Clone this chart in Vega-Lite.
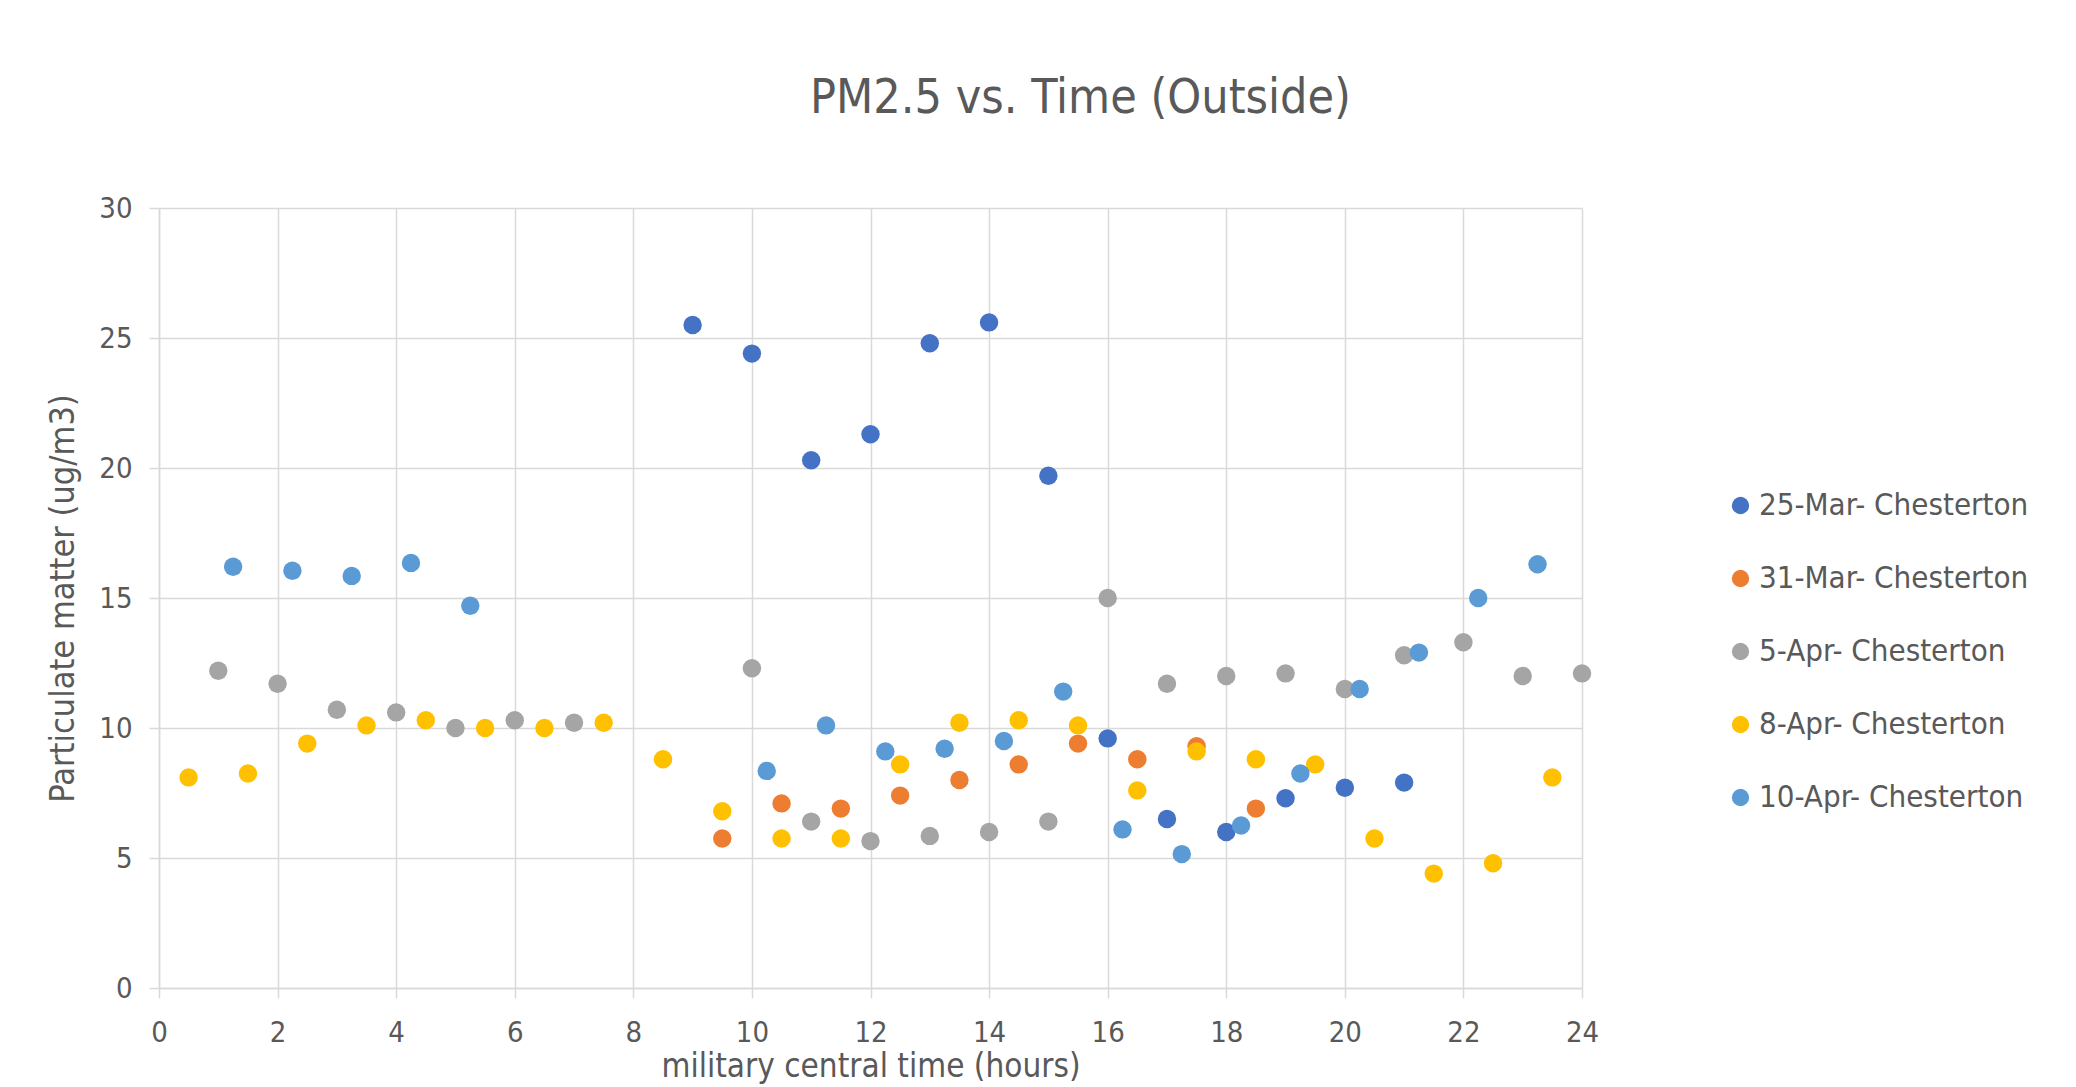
{
  "$schema": "https://vega.github.io/schema/vega-lite/v6.json",
  "width": 1423,
  "height": 780,
  "autosize": {"type": "none"},
  "padding": {"left": 159, "top": 208, "right": 494, "bottom": 99},
  "background": "white",
  "title": {
    "text": "PM2.5 vs. Time (Outside)",
    "font": "DejaVu Sans Condensed, Liberation Sans, sans-serif",
    "fontSize": 48,
    "fontWeight": "normal",
    "color": "#595959",
    "anchor": "middle",
    "frame": "group",
    "dx": 210,
    "baseline": "alphabetic",
    "offset": 33
  },
  "config": {
    "view": {"stroke": null},
    "axis": {
      "labelFont": "DejaVu Sans Condensed, Liberation Sans, sans-serif",
      "titleFont": "DejaVu Sans Condensed, Liberation Sans, sans-serif",
      "labelColor": "#595959",
      "titleColor": "#595959",
      "labelFontSize": 29,
      "titleFontWeight": "normal",
      "gridColor": "#D9D9D9",
      "gridWidth": 1.5,
      "domainColor": "#D9D9D9",
      "domainWidth": 1.5,
      "tickColor": "#D9D9D9",
      "tickWidth": 1.5,
      "tickSize": 10
    }
  },
  "data": {
    "values": [
      {"series": "25-Mar- Chesterton", "time": 9.0, "pm": 25.5},
      {"series": "25-Mar- Chesterton", "time": 10.0, "pm": 24.4},
      {"series": "25-Mar- Chesterton", "time": 11.0, "pm": 20.3},
      {"series": "25-Mar- Chesterton", "time": 12.0, "pm": 21.3},
      {"series": "25-Mar- Chesterton", "time": 13.0, "pm": 24.8},
      {"series": "25-Mar- Chesterton", "time": 14.0, "pm": 25.6},
      {"series": "25-Mar- Chesterton", "time": 15.0, "pm": 19.7},
      {"series": "25-Mar- Chesterton", "time": 16.0, "pm": 9.6},
      {"series": "25-Mar- Chesterton", "time": 17.0, "pm": 6.5},
      {"series": "25-Mar- Chesterton", "time": 18.0, "pm": 6.0},
      {"series": "25-Mar- Chesterton", "time": 19.0, "pm": 7.3},
      {"series": "25-Mar- Chesterton", "time": 20.0, "pm": 7.7},
      {"series": "25-Mar- Chesterton", "time": 21.0, "pm": 7.9},
      {"series": "31-Mar- Chesterton", "time": 9.5, "pm": 5.75},
      {"series": "31-Mar- Chesterton", "time": 10.5, "pm": 7.1},
      {"series": "31-Mar- Chesterton", "time": 11.5, "pm": 6.9},
      {"series": "31-Mar- Chesterton", "time": 12.5, "pm": 7.4},
      {"series": "31-Mar- Chesterton", "time": 13.5, "pm": 8.0},
      {"series": "31-Mar- Chesterton", "time": 14.5, "pm": 8.6},
      {"series": "31-Mar- Chesterton", "time": 15.5, "pm": 9.4},
      {"series": "31-Mar- Chesterton", "time": 16.5, "pm": 8.8},
      {"series": "31-Mar- Chesterton", "time": 17.5, "pm": 9.3},
      {"series": "31-Mar- Chesterton", "time": 18.5, "pm": 6.9},
      {"series": "5-Apr- Chesterton", "time": 1.0, "pm": 12.2},
      {"series": "5-Apr- Chesterton", "time": 2.0, "pm": 11.7},
      {"series": "5-Apr- Chesterton", "time": 3.0, "pm": 10.7},
      {"series": "5-Apr- Chesterton", "time": 4.0, "pm": 10.6},
      {"series": "5-Apr- Chesterton", "time": 5.0, "pm": 10.0},
      {"series": "5-Apr- Chesterton", "time": 6.0, "pm": 10.3},
      {"series": "5-Apr- Chesterton", "time": 7.0, "pm": 10.2},
      {"series": "5-Apr- Chesterton", "time": 10.0, "pm": 12.3},
      {"series": "5-Apr- Chesterton", "time": 11.0, "pm": 6.4},
      {"series": "5-Apr- Chesterton", "time": 12.0, "pm": 5.65},
      {"series": "5-Apr- Chesterton", "time": 13.0, "pm": 5.85},
      {"series": "5-Apr- Chesterton", "time": 14.0, "pm": 6.0},
      {"series": "5-Apr- Chesterton", "time": 15.0, "pm": 6.4},
      {"series": "5-Apr- Chesterton", "time": 16.0, "pm": 15.0},
      {"series": "5-Apr- Chesterton", "time": 17.0, "pm": 11.7},
      {"series": "5-Apr- Chesterton", "time": 18.0, "pm": 12.0},
      {"series": "5-Apr- Chesterton", "time": 19.0, "pm": 12.1},
      {"series": "5-Apr- Chesterton", "time": 20.0, "pm": 11.5},
      {"series": "5-Apr- Chesterton", "time": 21.0, "pm": 12.8},
      {"series": "5-Apr- Chesterton", "time": 22.0, "pm": 13.3},
      {"series": "5-Apr- Chesterton", "time": 23.0, "pm": 12.0},
      {"series": "5-Apr- Chesterton", "time": 24.0, "pm": 12.1},
      {"series": "8-Apr- Chesterton", "time": 0.5, "pm": 8.1},
      {"series": "8-Apr- Chesterton", "time": 1.5, "pm": 8.25},
      {"series": "8-Apr- Chesterton", "time": 2.5, "pm": 9.4},
      {"series": "8-Apr- Chesterton", "time": 3.5, "pm": 10.1},
      {"series": "8-Apr- Chesterton", "time": 4.5, "pm": 10.3},
      {"series": "8-Apr- Chesterton", "time": 5.5, "pm": 10.0},
      {"series": "8-Apr- Chesterton", "time": 6.5, "pm": 10.0},
      {"series": "8-Apr- Chesterton", "time": 7.5, "pm": 10.2},
      {"series": "8-Apr- Chesterton", "time": 8.5, "pm": 8.8},
      {"series": "8-Apr- Chesterton", "time": 9.5, "pm": 6.8},
      {"series": "8-Apr- Chesterton", "time": 10.5, "pm": 5.75},
      {"series": "8-Apr- Chesterton", "time": 11.5, "pm": 5.75},
      {"series": "8-Apr- Chesterton", "time": 12.5, "pm": 8.6},
      {"series": "8-Apr- Chesterton", "time": 13.5, "pm": 10.2},
      {"series": "8-Apr- Chesterton", "time": 14.5, "pm": 10.3},
      {"series": "8-Apr- Chesterton", "time": 15.5, "pm": 10.1},
      {"series": "8-Apr- Chesterton", "time": 16.5, "pm": 7.6},
      {"series": "8-Apr- Chesterton", "time": 17.5, "pm": 9.1},
      {"series": "8-Apr- Chesterton", "time": 18.5, "pm": 8.8},
      {"series": "8-Apr- Chesterton", "time": 19.5, "pm": 8.6},
      {"series": "8-Apr- Chesterton", "time": 20.5, "pm": 5.75},
      {"series": "8-Apr- Chesterton", "time": 21.5, "pm": 4.4},
      {"series": "8-Apr- Chesterton", "time": 22.5, "pm": 4.8},
      {"series": "8-Apr- Chesterton", "time": 23.5, "pm": 8.1},
      {"series": "10-Apr- Chesterton", "time": 1.25, "pm": 16.2},
      {"series": "10-Apr- Chesterton", "time": 2.25, "pm": 16.05},
      {"series": "10-Apr- Chesterton", "time": 3.25, "pm": 15.85},
      {"series": "10-Apr- Chesterton", "time": 4.25, "pm": 16.35},
      {"series": "10-Apr- Chesterton", "time": 5.25, "pm": 14.7},
      {"series": "10-Apr- Chesterton", "time": 10.25, "pm": 8.35},
      {"series": "10-Apr- Chesterton", "time": 11.25, "pm": 10.1},
      {"series": "10-Apr- Chesterton", "time": 12.25, "pm": 9.1},
      {"series": "10-Apr- Chesterton", "time": 13.25, "pm": 9.2},
      {"series": "10-Apr- Chesterton", "time": 14.25, "pm": 9.5},
      {"series": "10-Apr- Chesterton", "time": 15.25, "pm": 11.4},
      {"series": "10-Apr- Chesterton", "time": 16.25, "pm": 6.1},
      {"series": "10-Apr- Chesterton", "time": 17.25, "pm": 5.15},
      {"series": "10-Apr- Chesterton", "time": 18.25, "pm": 6.25},
      {"series": "10-Apr- Chesterton", "time": 19.25, "pm": 8.25},
      {"series": "10-Apr- Chesterton", "time": 20.25, "pm": 11.5},
      {"series": "10-Apr- Chesterton", "time": 21.25, "pm": 12.9},
      {"series": "10-Apr- Chesterton", "time": 22.25, "pm": 15.0},
      {"series": "10-Apr- Chesterton", "time": 23.25, "pm": 16.3}
    ]
  },
  "mark": {"type": "point", "filled": true, "opacity": 1, "size": 340},
  "encoding": {
    "x": {
      "field": "time",
      "type": "quantitative",
      "scale": {"domain": [0, 24], "nice": false, "zero": false},
      "axis": {
        "title": "military central time (hours)",
        "titleFontSize": 33,
        "values": [0, 2, 4, 6, 8, 10, 12, 14, 16, 18, 20, 22, 24],
        "labelPadding": 20,
        "titlePadding": 3,
        "labelFlush": false
      }
    },
    "y": {
      "field": "pm",
      "type": "quantitative",
      "scale": {"domain": [0, 30], "nice": false},
      "axis": {
        "title": "Particulate matter (ug/m3)",
        "titleFontSize": 34,
        "values": [0, 5, 10, 15, 20, 25, 30],
        "labelPadding": 17,
        "titlePadding": 18,
        "labelFlush": false
      }
    },
    "color": {
      "field": "series",
      "type": "nominal",
      "sort": null,
      "scale": {
        "domain": ["25-Mar- Chesterton", "31-Mar- Chesterton", "5-Apr- Chesterton", "8-Apr- Chesterton", "10-Apr- Chesterton"],
        "range": ["#4472C4", "#ED7D31", "#A5A5A5", "#FFC000", "#5B9BD5"]
      },
      "legend": {
        "title": null,
        "orient": "none",
        "legendX": 1566,
        "legendY": 282,
        "labelFont": "DejaVu Sans Condensed, Liberation Sans, sans-serif",
        "labelFontSize": 31,
        "labelColor": "#595959",
        "labelLimit": 0,
        "symbolType": "circle",
        "symbolSize": 300,
        "symbolStrokeWidth": 0,
        "labelOffset": 3,
        "rowPadding": 41
      }
    }
  }
}
